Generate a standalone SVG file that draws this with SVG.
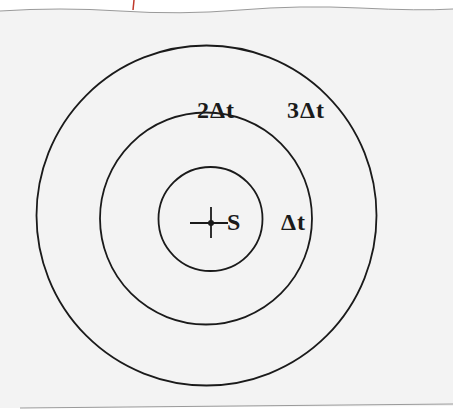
<svg xmlns="http://www.w3.org/2000/svg" width="453" height="419" viewBox="0 0 453 419">
<style>
.ring{fill:none;stroke:#1a1a1a;stroke-width:1.8}
.lbl{font-family:"Liberation Serif","Times New Roman",serif;font-weight:bold;font-size:24px;fill:#1a1a1a;letter-spacing:1px}
.edge{fill:none;stroke:#9a9a9a;stroke-width:1}
</style>
<rect x="0" y="0" width="453" height="419" fill="#ffffff"/>
<g id="paper">
<path d="M0,11 Q60,7 120,11 T240,10 T360,8 T453,9 L453,406 L0,408 Z" fill="#f3f3f3"/>
<path class="edge" d="M0,11 Q60,7 120,11 T240,10 T360,8 T453,9"/>
<path class="edge" d="M20,408 L453,404"/>
<line x1="134" y1="0" x2="133" y2="10" stroke="#c0392b" stroke-width="1.5"/>
</g>
<g id="ring-3dt"><circle class="ring" cx="206.5" cy="215.5" r="170"/></g>
<g id="ring-2dt"><circle class="ring" cx="206" cy="218.5" r="106"/></g>
<g id="ring-dt"><circle class="ring" cx="210.5" cy="219" r="52"/></g>
<g id="source">
<line x1="190" y1="223" x2="228" y2="223" stroke="#1a1a1a" stroke-width="1.8"/>
<line x1="211" y1="207" x2="211" y2="238" stroke="#1a1a1a" stroke-width="1.8"/>
<circle cx="211" cy="223" r="3" fill="#1a1a1a"/>
<text class="lbl" x="227" y="230">S</text>
</g>
<g id="labels">
<text class="lbl" x="281" y="230">Δt</text>
<text class="lbl" x="197" y="118">2Δt</text>
<text class="lbl" x="287" y="118">3Δt</text>
</g>
</svg>
